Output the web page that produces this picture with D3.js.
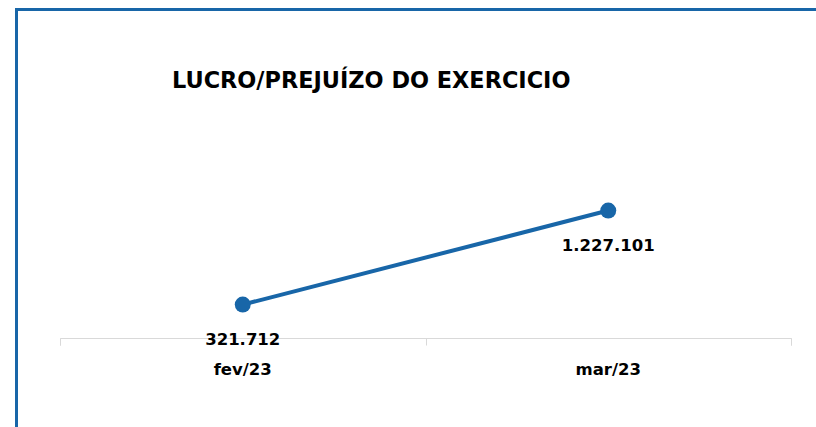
<!DOCTYPE html>
<html>
<head>
<meta charset="utf-8">
<script src="https://cdn.jsdelivr.net/npm/d3@7"></script>
<style>
  body { margin: 0; background: #fff; }
  svg { display: block; font-family: "DejaVu Sans", sans-serif; }
</style>
</head>
<body>
<svg></svg>
<script>
const width = 816;
const height = 427;

// data
const title = "LUCRO/PREJUÍZO DO EXERCICIO";
const months = ["fev/23", "mar/23"];
const lucro = [321712, 1227101];
const labels = ["321.712", "1.227.101"];

const blue = "#1866a8";
const font = "DejaVu Sans, sans-serif";

var svg = d3.select("svg")
  .attr("width", width)
  .attr("height", height);

// chart frame (runs off the page on the right and bottom)
svg.append("rect")
  .attr("x", 16.5).attr("y", 9.5)
  .attr("width", 830).attr("height", 440)
  .attr("fill", "none")
  .attr("stroke", blue)
  .attr("stroke-width", 3);

svg.append("text")
  .attr("x", 172).attr("y", 88)
  .attr("font-family", font)
  .attr("font-size", 22.4)
  .attr("font-weight", "bold")
  .attr("fill", "#000")
  .text(title);

var xScale = d3.scaleBand().domain(months).range([60, 791]);
var yScale = d3.scaleLinear().domain([0, 1400000]).range([338, 192.6]);

var xAxis = d3.axisBottom(xScale).tickSize(7).tickFormat("");
var gx = svg.append("g")
  .attr("transform", "translate(0,338.5)")
  .call(xAxis);
gx.select(".domain").attr("stroke", "#d9d9d9").attr("d", "M60.5,7V0H791.5V7");
gx.selectAll(".tick").remove();
// tick marks at band boundaries
gx.selectAll("line.sep")
  .data([60, 60 + xScale.step(), 60 + 2 * xScale.step()])
  .enter()
  .append("line")
  .attr("class", "sep")
  .attr("x1", d => Math.round(d) + 0.5).attr("x2", d => Math.round(d) + 0.5)
  .attr("y1", 0).attr("y2", 7)
  .attr("stroke", "#d9d9d9");

svg.selectAll("text.cat")
  .data(months)
  .enter()
  .append("text")
  .attr("class", "cat")
  .attr("x", d => xScale(d) + xScale.bandwidth() / 2)
  .attr("y", 375)
  .attr("text-anchor", "middle")
  .attr("font-family", font)
  .attr("font-size", 16.5)
  .attr("font-weight", "bold")
  .attr("fill", "#000")
  .text(d => d);

var cx = (d, i) => xScale(months[i]) + xScale.bandwidth() / 2;

var line = d3.line()
  .x((d, i) => cx(d, i))
  .y(d => yScale(d));

svg.append("path")
  .datum(lucro)
  .attr("d", line)
  .attr("fill", "none")
  .attr("stroke", blue)
  .attr("stroke-width", 4);

svg.selectAll("circle.pt")
  .data(lucro)
  .enter()
  .append("circle")
  .attr("class", "pt")
  .attr("cx", cx)
  .attr("cy", d => yScale(d))
  .attr("r", 8)
  .attr("fill", blue);

svg.selectAll("text.val")
  .data(lucro)
  .enter()
  .append("text")
  .attr("class", "val")
  .attr("x", cx)
  .attr("y", d => yScale(d) + 40)
  .attr("text-anchor", "middle")
  .attr("font-family", font)
  .attr("font-size", 16.5)
  .attr("font-weight", "bold")
  .attr("fill", "#000")
  .text((d, i) => labels[i]);
</script>
</body>
</html>
